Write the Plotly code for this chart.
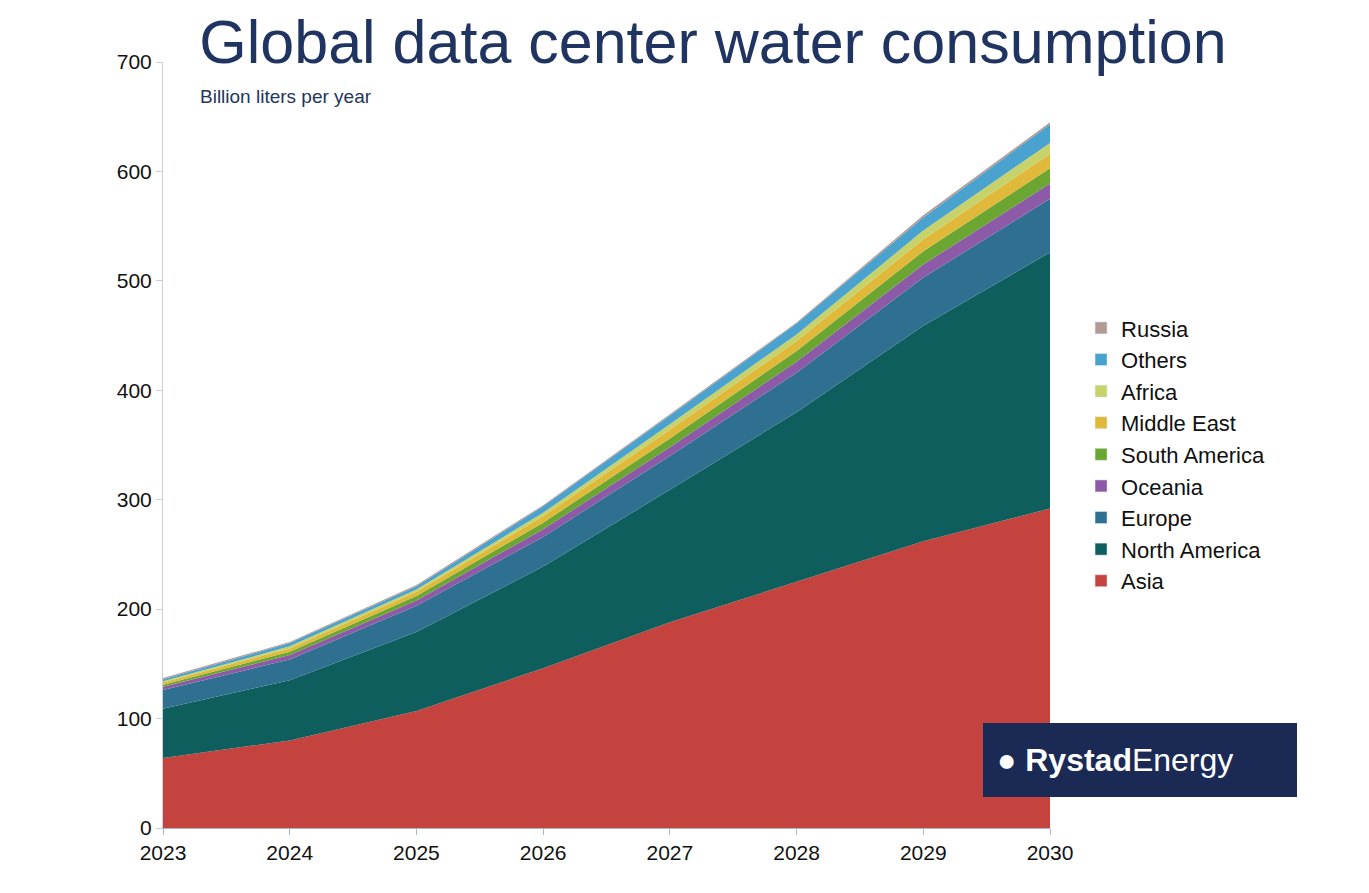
import plotly.graph_objects as go

years = [2023, 2024, 2025, 2026, 2027, 2028, 2029, 2030]
asia = [64, 80, 107, 146, 188, 225, 262, 292]
north_america = [45, 55, 72, 93, 121, 155, 197, 234]
europe = [17, 19, 24, 27, 31, 36, 44, 49]
oceania = [3, 4, 5, 7, 8, 10, 12, 14]
south_america = [2, 3, 4, 6, 8, 10, 12, 14]
middle_east = [2, 3, 4, 6, 8, 9, 11, 13]
africa = [1, 2, 2, 3, 5, 6, 8, 10]
others = [2, 3, 3, 6, 8, 10, 12, 17]
russia = [1, 1, 1, 1, 1, 1, 2, 2]

series = [
    ("Asia", asia, "#c4433f"),
    ("North America", north_america, "#0d5e5c"),
    ("Europe", europe, "#2f7091"),
    ("Oceania", oceania, "#8c5aa6"),
    ("South America", south_america, "#6aa631"),
    ("Middle East", middle_east, "#e0b93a"),
    ("Africa", africa, "#c7d36a"),
    ("Others", others, "#4aa3cf"),
    ("Russia", russia, "#b49a94"),
]

fig = go.Figure()
for name, vals, col in series:
    fig.add_trace(go.Scatter(x=years, y=vals, name=name, stackgroup="one",
                             mode="lines", line=dict(width=0, color=col),
                             fillcolor=col, showlegend=False))
for name, vals, col in series:
    fig.add_trace(go.Bar(x=[None], y=[None], name=name, marker_color=col,
                         showlegend=True))

fig.update_layout(
    width=1369, height=893,
    paper_bgcolor="white", plot_bgcolor="white",
    margin=dict(l=155, r=327, t=54, b=73),
    font=dict(family="Liberation Sans, Arial", size=19, color="#111"),
    title=dict(text="Global data center water consumption", x=0.515, xanchor="center",
               y=0.962, yanchor="middle",
               font=dict(size=61, color="#1f3460", family="Liberation Sans, Arial")),
    showlegend=True,
    legend=dict(x=1.035, y=0.68, xanchor="left", yanchor="top",
                traceorder="reversed", font=dict(size=22, color="#111"),
                itemwidth=30, tracegroupgap=0),
    xaxis=dict(range=[2023, 2030], tickvals=years, showgrid=False,
               showline=True, linecolor="#aab4c8", ticks="outside",
               ticklen=6, tickcolor="#aab4c8", tickfont=dict(size=21)),
    yaxis=dict(range=[0, 700], dtick=100, showgrid=False, showline=True,
               linecolor="#c8d0dc", ticks="outside", ticklen=6,
               tickcolor="#c8d0dc", tickfont=dict(size=21), zeroline=False),
)
fig.add_annotation(text="Billion liters per year", xref="paper", yref="paper",
                   x=0.04, y=0.955, xanchor="left", yanchor="middle",
                   showarrow=False, font=dict(size=19, color="#1f3460"))
fig.add_shape(type="rect", xref="paper", yref="paper",
              x0=(983-163)/887, x1=(1297-163)/887,
              y0=(828-797)/766, y1=(828-723)/766,
              fillcolor="#1b2a55", line=dict(width=0))
fig.add_annotation(text="● <b>Rystad</b>Energy", xref="paper", yref="paper",
                   x=(995-163)/887, y=(828-760)/766, xanchor="left", yanchor="middle",
                   showarrow=False, font=dict(size=32, color="white"))
fig.write_html("out.html")
